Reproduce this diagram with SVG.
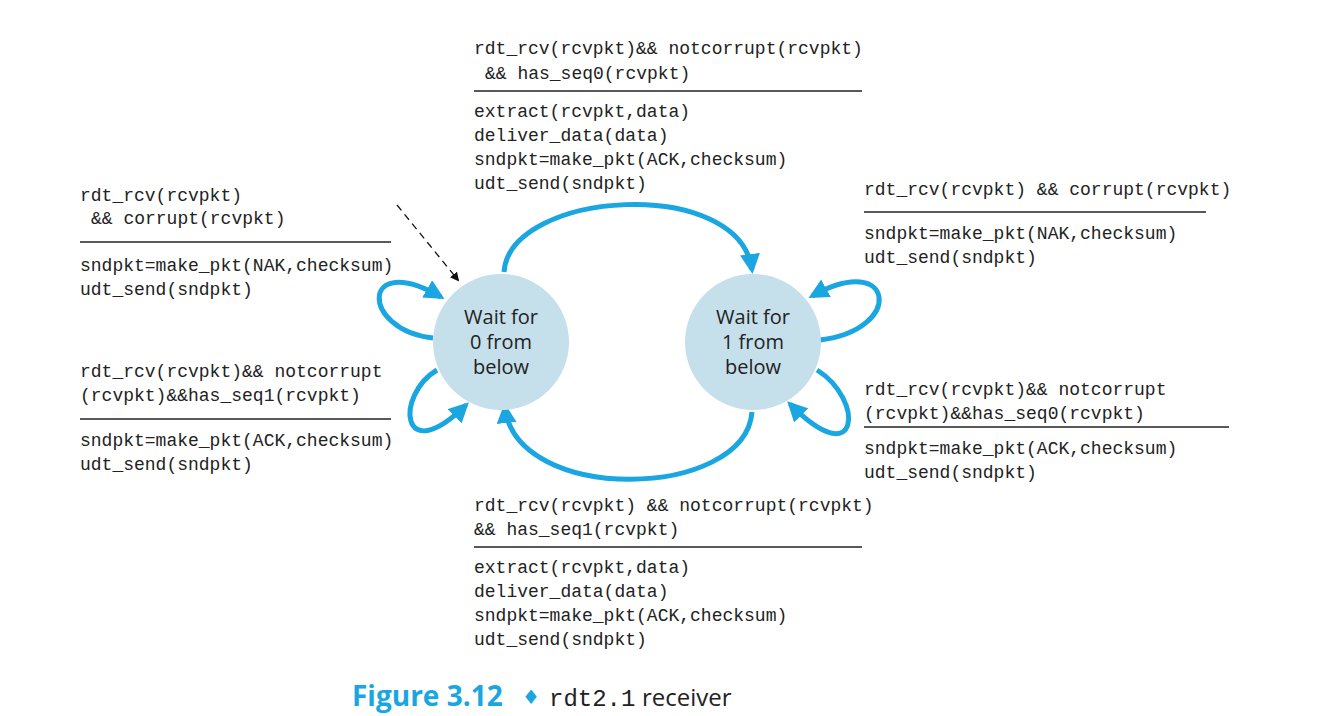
<svg xmlns="http://www.w3.org/2000/svg" width="1342" height="716" viewBox="0 0 1342 716">
<style>
.m{font-family:"Liberation Mono","DejaVu Sans Mono",monospace;font-size:18px;fill:#222;white-space:pre}
.st{font-family:"Open Sans","Liberation Sans",sans-serif;font-size:20px;fill:#222;text-anchor:middle}
.rule{stroke:#222;stroke-width:1.3}
.arc{fill:none;stroke:#1aa6e0;stroke-width:5}
</style>
<defs>
<marker id="ah" viewBox="0 0 10 10" refX="8" refY="5" markerWidth="4" markerHeight="4" orient="auto" markerUnits="strokeWidth"><path d="M0,0 L10,5 L0,10 z" fill="#1aa6e0"/></marker>
<marker id="dh" viewBox="0 0 10 10" refX="8" refY="5" markerWidth="9" markerHeight="9" orient="auto" markerUnits="userSpaceOnUse"><path d="M0,0 L10,5 L0,10 z" fill="#111"/></marker>
</defs>
<rect width="1342" height="716" fill="#fff"/>
<g id="connectors">
<path class="arc" d="M504,272 C510,190 740,175 752,270" marker-end="url(#ah)"/>
<path class="arc" d="M752,412 C745,500 515,505 505,407" marker-end="url(#ah)"/>
<path class="arc" d="M433,338 C360,330 360,250 441,297" marker-end="url(#ah)"/>
<path class="arc" d="M437,370 C395,395 400,470 466,405" marker-end="url(#ah)"/>
<path class="arc" d="M820,340 C905,330 895,250 812,296" marker-end="url(#ah)"/>
<path class="arc" d="M817,370 C865,400 860,475 790,404" marker-end="url(#ah)"/>
<path d="M397,205 L458,280" stroke="#111" stroke-width="1.3" stroke-dasharray="7,5" fill="none" marker-end="url(#dh)"/>
</g>
<g id="s0"><circle cx="501" cy="342" r="68" fill="#c5dfeb"/><text class="st" x="501" y="324">Wait for</text><text class="st" x="501" y="349">0 from</text><text class="st" x="501" y="374">below</text></g>
<g id="s1"><circle cx="753" cy="342" r="68" fill="#c5dfeb"/><text class="st" x="753" y="324">Wait for</text><text class="st" x="753" y="349">1 from</text><text class="st" x="753" y="374">below</text></g>
<g id="lbl-top">
<text class="m" x="474" y="54">rdt_rcv(rcvpkt)&amp;&amp; notcorrupt(rcvpkt)</text>
<text class="m" x="485" y="79">&amp;&amp; has_seq0(rcvpkt)</text>
<line class="rule" x1="474" y1="91" x2="862" y2="91"/>
<text class="m" x="474" y="117">extract(rcvpkt,data)</text>
<text class="m" x="474" y="141">deliver_data(data)</text>
<text class="m" x="474" y="165">sndpkt=make_pkt(ACK,checksum)</text>
<text class="m" x="474" y="189">udt_send(sndpkt)</text>
</g>
<g id="lbl-left1">
<text class="m" x="80" y="201">rdt_rcv(rcvpkt)</text>
<text class="m" x="91" y="224">&amp;&amp; corrupt(rcvpkt)</text>
<line class="rule" x1="80" y1="242" x2="391" y2="242"/>
<text class="m" x="80" y="271">sndpkt=make_pkt(NAK,checksum)</text>
<text class="m" x="80" y="295">udt_send(sndpkt)</text>
</g>
<g id="lbl-left2">
<text class="m" x="80" y="377">rdt_rcv(rcvpkt)&amp;&amp; notcorrupt</text>
<text class="m" x="80" y="401">(rcvpkt)&amp;&amp;has_seq1(rcvpkt)</text>
<line class="rule" x1="80" y1="419" x2="391" y2="419"/>
<text class="m" x="80" y="446">sndpkt=make_pkt(ACK,checksum)</text>
<text class="m" x="80" y="470">udt_send(sndpkt)</text>
</g>
<g id="lbl-right1">
<text class="m" x="864" y="195">rdt_rcv(rcvpkt) &amp;&amp; corrupt(rcvpkt)</text>
<line class="rule" x1="864" y1="212" x2="1206" y2="212"/>
<text class="m" x="864" y="239">sndpkt=make_pkt(NAK,checksum)</text>
<text class="m" x="864" y="263">udt_send(sndpkt)</text>
</g>
<g id="lbl-right2">
<text class="m" x="864" y="395">rdt_rcv(rcvpkt)&amp;&amp; notcorrupt</text>
<text class="m" x="864" y="419">(rcvpkt)&amp;&amp;has_seq0(rcvpkt)</text>
<line class="rule" x1="864" y1="427" x2="1229" y2="427"/>
<text class="m" x="864" y="454">sndpkt=make_pkt(ACK,checksum)</text>
<text class="m" x="864" y="478">udt_send(sndpkt)</text>
</g>
<g id="lbl-bottom">
<text class="m" x="474" y="511">rdt_rcv(rcvpkt) &amp;&amp; notcorrupt(rcvpkt)</text>
<text class="m" x="474" y="535">&amp;&amp; has_seq1(rcvpkt)</text>
<line class="rule" x1="474" y1="547" x2="862" y2="547"/>
<text class="m" x="474" y="573">extract(rcvpkt,data)</text>
<text class="m" x="474" y="597">deliver_data(data)</text>
<text class="m" x="474" y="621">sndpkt=make_pkt(ACK,checksum)</text>
<text class="m" x="474" y="645">udt_send(sndpkt)</text>
</g>
<g id="caption">
<text x="352" y="706" font-family="'Open Sans','Liberation Sans',sans-serif" font-weight="bold" font-size="28" fill="#1aa6e0">Figure 3.12</text>
<text x="522" y="704" font-family="'DejaVu Sans',sans-serif" font-size="20" fill="#1aa6e0">♦</text>
<text x="549" y="706" font-family="'Liberation Mono',monospace" font-size="24" fill="#222">rdt2.1</text>
<text x="642" y="706" font-family="'Open Sans','Liberation Sans',sans-serif" font-size="24" fill="#222">receiver</text>
</g>
</svg>
